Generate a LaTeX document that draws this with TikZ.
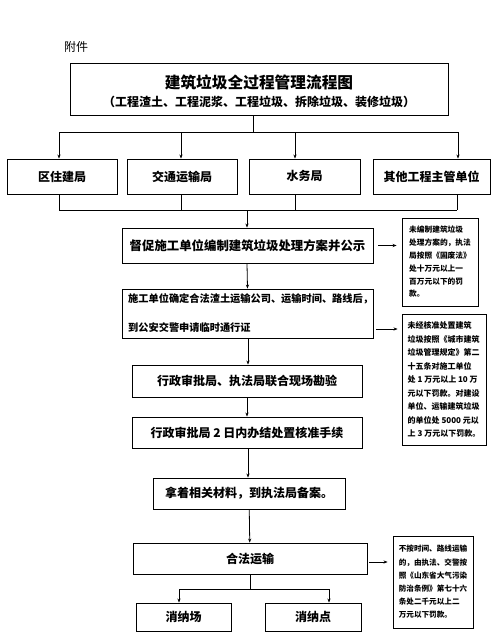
\documentclass[tikz,border=0pt]{standalone}
\usepackage{fontspec}
\setmainfont{Noto Sans CJK SC}
\usetikzlibrary{arrows.meta}
\begin{document}
\begin{tikzpicture}[x=1pt,y=-1pt,
  box/.style={draw,line width=0.9pt,inner sep=0pt,font=\bfseries\fontsize{12}{14}\selectfont},
  note/.style={draw,line width=0.9pt,inner sep=0pt,align=left},
  ln/.style={line width=0.8pt},
  arr/.style={line width=0.8pt,-{Stealth[length=4pt,width=3.2pt]}},
  txt/.style={inner sep=0pt}]
\useasboundingbox (0,0) rectangle (500,635);
% attachment label
\node[txt,font=\fontsize{12}{14}\selectfont] (fj) at (76,47) {附件};
% title
\node[draw,line width=0.9pt,minimum width=378,minimum height=52,inner sep=0pt] (title) at (259,89) {};
\node[txt,font=\bfseries\fontsize{15.7}{18}\selectfont] (t1) at (259,82) {建筑垃圾全过程管理流程图};
\node[txt,font=\bfseries\fontsize{12}{14}\selectfont] (t2) at (259,102) {（工程渣土、工程泥浆、工程垃圾、拆除垃圾、装修垃圾）};
% departments
\node[box,minimum width=110,minimum height=35] (q1) at (62,176.5) {区住建局};
\node[box,minimum width=110,minimum height=35] (q2) at (182,176.5) {交通运输局};
\node[box,minimum width=111,minimum height=35] (q3) at (304.5,176.5) {\raisebox{2pt}{水务局}};
\node[box,minimum width=117,minimum height=35] (q4) at (431.5,176.5) {其他工程主管单位};
% top bus
\coordinate (tb0) at (253,132);
\coordinate (tb1) at (59,132);
\coordinate (tb2) at (181,132);
\coordinate (tb3) at (295,132);
\coordinate (tb4) at (458,132);
\draw[ln] (title.south -| tb0) -- (tb0);
\draw[ln] (tb1) -- (tb4);
\draw[arr] (tb1) -- (tb1 |- q1.north);
\draw[arr] (tb2) -- (tb2 |- q2.north);
\draw[arr] (tb3) -- (tb3 |- q3.north);
\draw[arr] (tb4) -- (tb4 |- q4.north);
% bottom bus
\coordinate (bb1) at (59,210);
\coordinate (bb2) at (181,210);
\coordinate (bb3) at (295,210);
\coordinate (bb4) at (457,210);
\coordinate (bb0) at (247,210);
\draw[ln] (q1.south -| bb1) -- (bb1);
\draw[ln] (q2.south -| bb2) -- (bb2);
\draw[ln] (q3.south -| bb3) -- (bb3);
\draw[ln] (q4.south -| bb4) -- (bb4);
\draw[ln] (bb1) -- (bb4);
% main steps
\node[box,minimum width=251,minimum height=35,font=\bfseries\fontsize{12.4}{14}\selectfont] (s1) at (247.5,245.5) {\raisebox{-1.5pt}{督促施工单位编制建筑垃圾处理方案并公示}};
\draw[arr] (bb0) -- (bb0 |- s1.north);
\node[draw,line width=0.9pt,minimum width=251,minimum height=49,inner sep=0pt] (s2) at (247.5,313.5) {};
\node[txt,anchor=west,align=left,font=\bfseries\fontsize{10.2}{29}\selectfont] (s2t) at (128,313.5) {施工单位确定合法渣土运输公司、运输时间、路线后，\\到公安交警申请临时通行证};
\draw[arr] (s1.south -| bb0) -- (s1.south |- s2.north);
\node[box,minimum width=230,minimum height=32] (s3) at (247,381) {\raisebox{-1.5pt}{行政审批局、执法局联合现场勘验}};
\draw[arr] (s2.south -| 248,0) -- (248,0 |- s3.north);
\node[box,minimum width=230,minimum height=31] (s4) at (247,432.5) {\raisebox{-2pt}{行政审批局 2 日内办结处置核准手续}};
\draw[arr] (s3) -- (s4);
\node[box,minimum width=192,minimum height=31] (s5) at (249,493.5) {\raisebox{-1.5pt}{拿着相关材料，到执法局备案。}};
\draw[arr] (s4.south -| 248,0) -- (248,0 |- s5.north);
\node[box,minimum width=234,minimum height=31] (s6) at (250,558.5) {\raisebox{-2pt}{合法运输}};
\draw[arr] (s5) -- (s6);
% disposal sites
\node[box,minimum width=95,minimum height=28] (e1) at (183.5,617) {\raisebox{-2pt}{消纳场}};
\node[box,minimum width=96,minimum height=28] (e2) at (313,617) {\raisebox{-2pt}{消纳点}};
\coordinate (cb0) at (250,589);
\coordinate (cb1) at (179,589);
\coordinate (cb2) at (329,589);
\draw[ln] (s6.south) -- (cb0);
\draw[ln] (cb1) -- (cb2);
\draw[arr] (cb1) -- (cb1 |- e1.north);
\draw[arr] (cb2) -- (cb2 |- e2.north);
% penalty notes
\node[note,minimum width=76,minimum height=88,font=\bfseries\fontsize{7.7}{12.8}\selectfont] (n1) at (440,262) {未编制建筑垃圾\\处理方案的，执法\\局按照《固废法》\\处十万元以上一\\百万元以下的罚\\款。};
\node[note,minimum width=84,minimum height=131,font=\bfseries\fontsize{8}{13.5}\selectfont] (n2) at (444,379.5) {未经核准处置建筑\\垃圾按照《城市建筑\\垃圾管理规定》第二\\十五条对施工单位\\处 1 万元以上 10 万\\元以下罚款。对建设\\单位、运输建筑垃圾\\的单位处 5000 元以\\上 3 万元以下罚款。};
\node[note,minimum width=80,minimum height=92,font=\bfseries\fontsize{7.6}{13.2}\selectfont] (n3) at (433,582) {不按时间、路线运输\\的，由执法、交警按\\照《山东省大气污染\\防治条例》第七十六\\条处二千元以上二\\万元以下罚款。};
\draw[arr,shorten <=5pt,shorten >=5pt] (s1.east) -- (n1.west |- s1.east);
\coordinate (a2) at (373,329);
\draw[arr,shorten <=3pt,shorten >=4pt] (a2) -- (n2.west |- a2);
\draw[arr,shorten <=2pt,shorten >=5pt] (s6.east |- 0,562) -- (n3.west |- 0,562);
\end{tikzpicture}
\end{document}
